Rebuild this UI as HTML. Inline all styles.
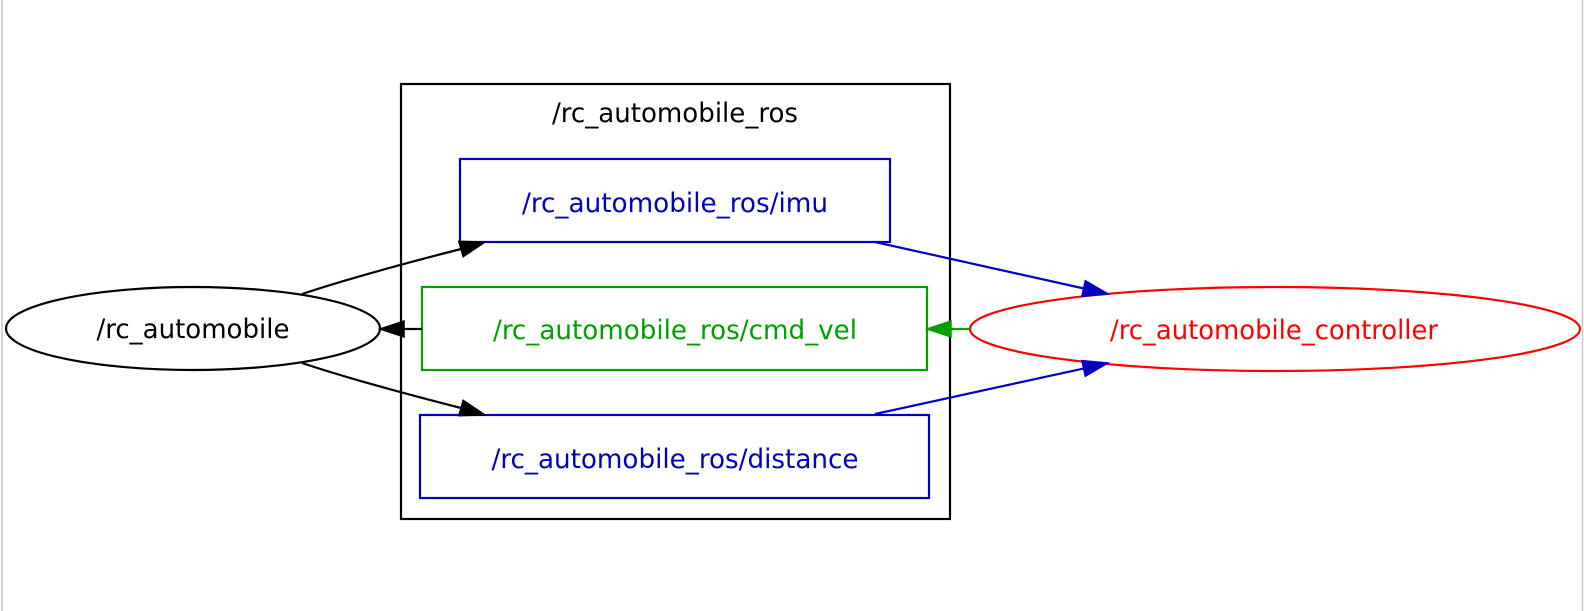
<!DOCTYPE html>
<html><head><meta charset="utf-8"><style>
html,body{margin:0;padding:0;background:#fff;}
svg{display:block;}
text{font-family:"DejaVu Sans Condensed","DejaVu Sans","Liberation Sans",sans-serif;font-size:27px;}
</style></head><body>
<svg width="1584" height="611" viewBox="0 0 1584 611" xmlns="http://www.w3.org/2000/svg">
<rect x="0" y="0" width="1584" height="611" fill="#fff"/>
<line x1="2" y1="0" x2="2" y2="611" stroke="#c8c8c8" stroke-width="1.5"/>
<line x1="1582.5" y1="0" x2="1582.5" y2="611" stroke="#c8c8c8" stroke-width="1.5"/>
<rect x="401" y="84" width="549" height="435" fill="none" stroke="#000" stroke-width="2.2"/>
<text x="675" y="122" text-anchor="middle" fill="#000" textLength="246" lengthAdjust="spacingAndGlyphs">/rc_automobile_ros</text>
<rect x="460" y="159" width="430" height="83" fill="none" stroke="#0000c0" stroke-width="2.2"/>
<text x="675" y="212" text-anchor="middle" fill="#0000c0" textLength="306" lengthAdjust="spacingAndGlyphs">/rc_automobile_ros/imu</text>
<rect x="422" y="287" width="505" height="83" fill="none" stroke="#00a000" stroke-width="2.2"/>
<text x="675" y="339" text-anchor="middle" fill="#00a000" textLength="364" lengthAdjust="spacingAndGlyphs">/rc_automobile_ros/cmd_vel</text>
<rect x="420" y="415" width="509" height="83" fill="none" stroke="#0000c0" stroke-width="2.2"/>
<text x="675" y="468" text-anchor="middle" fill="#0000c0" textLength="367" lengthAdjust="spacingAndGlyphs">/rc_automobile_ros/distance</text>
<ellipse cx="193" cy="328.5" rx="187" ry="41.5" fill="none" stroke="#000" stroke-width="2.2"/>
<text x="193" y="338" text-anchor="middle" fill="#000" textLength="193" lengthAdjust="spacingAndGlyphs">/rc_automobile</text>
<ellipse cx="1275" cy="329" rx="305" ry="42" fill="none" stroke="#ff0000" stroke-width="2.2"/>
<text x="1274" y="339" text-anchor="middle" fill="#ff0000" textLength="328" lengthAdjust="spacingAndGlyphs">/rc_automobile_controller</text>
<path d="M302,294 C350,278 410,262 461,249" fill="none" stroke="#000" stroke-width="2.2"/>
<polygon points="485,242 463.2,256.7 458.8,241.3" fill="#000" stroke="#000" stroke-width="1.5"/>
<path d="M302,363 C350,379 410,395 461,408" fill="none" stroke="#000" stroke-width="2.2"/>
<polygon points="485,415 458.8,415.7 463.2,400.3" fill="#000" stroke="#000" stroke-width="1.5"/>
<line x1="404" y1="329" x2="422" y2="329" stroke="#000" stroke-width="2.2"/>
<polygon points="380,329 404,321 404,337" fill="#000" stroke="#000" stroke-width="1.5"/>
<line x1="951" y1="329" x2="970" y2="329" stroke="#00a000" stroke-width="2.2"/>
<polygon points="927,329 951,321 951,337" fill="#00a000" stroke="#00a000" stroke-width="1.5"/>
<line x1="875" y1="242" x2="1084" y2="288.5" stroke="#0000c0" stroke-width="2.2"/>
<polygon points="1108,294 1081.9,296.3 1085.3,280.7" fill="#0000c0" stroke="#0000c0" stroke-width="1.5"/>
<line x1="875" y1="414" x2="1084" y2="368.4" stroke="#0000c0" stroke-width="2.2"/>
<polygon points="1108,363 1085.3,376.2 1081.9,360.6" fill="#0000c0" stroke="#0000c0" stroke-width="1.5"/>
</svg>
</body></html>
